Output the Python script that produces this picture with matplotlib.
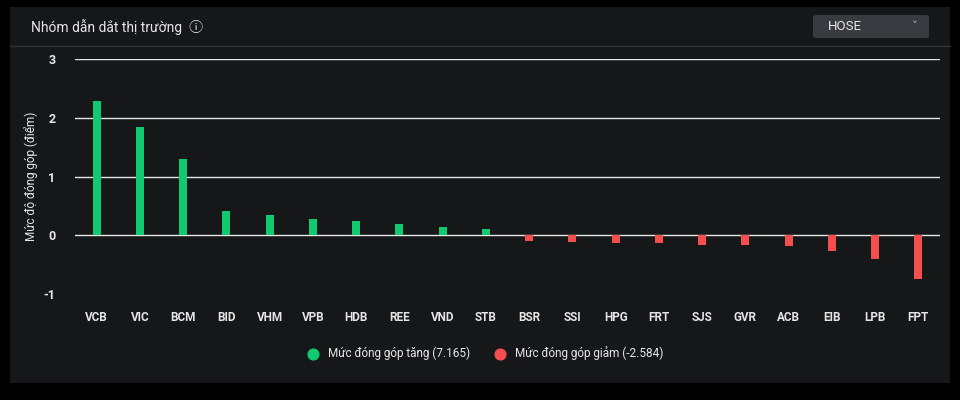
import matplotlib
matplotlib.use("Agg")
import matplotlib.pyplot as plt
from matplotlib.patches import Rectangle, FancyBboxPatch

plt.rcParams['font.family'] = ['Roboto', 'DejaVu Sans', 'Noto Sans CJK SC']

pos_labels = ["VCB", "VIC", "BCM", "BID", "VHM", "VPB", "HDB", "REE", "VND", "STB"]
pos_values = [2.29, 1.84, 1.29, 0.41, 0.34, 0.28, 0.24, 0.19, 0.14, 0.11]
neg_labels = ["BSR", "SSI", "HPG", "FRT", "SJS", "GVR", "ACB", "EIB", "LPB", "FPT"]
neg_values = [-0.09, -0.11, -0.13, -0.14, -0.16, -0.17, -0.19, -0.26, -0.41, -0.74]
yticks = [-1, 0, 1, 2, 3]
pos_total = 7.165
neg_total = -2.584

GREEN = "#10c971"
RED = "#f54e4e"
PANEL = "#161719"

fig = plt.figure(figsize=(9.6, 4.0), dpi=100)
fig.patch.set_facecolor("#000000")
fig.patches.append(Rectangle((10/960, 17/400), 940/960, 376/400, transform=fig.transFigure,
                             facecolor=PANEL, edgecolor="none", zorder=-10))
fig.add_artist(plt.Line2D([10/960, 950/960], [1-46/400, 1-46/400], color="#333333", lw=1, zorder=-5))
fig.text(31/960, 1-27/400, "Nhóm dẫn dắt thị trường  ⓘ", color="#e6e6e6", fontsize=10, va="center",
         family=['Roboto', 'DejaVu Sans', 'Noto Sans CJK SC'])
fig.patches.append(FancyBboxPatch((813/960, 1-38/400), 116/960, 23/400, transform=fig.transFigure,
                                  boxstyle="round,pad=0,rounding_size=0.004", facecolor="#3a3b40",
                                  edgecolor="none", zorder=-5))
fig.text(828/960, 1-27/400, "HOSE", color="#e6e6e6", fontsize=9.5, va="center")
fig.text(912/960, 1-26/400, "˅", color="#bbbbbb", fontsize=8, va="center")

ax = fig.add_axes([75/960, 1-294/400, 865/960, 235/400])
ax.set_facecolor(PANEL)
labels = pos_labels + neg_labels
x = list(range(len(labels)))
ax.bar(x[:10], pos_values, width=0.19, color=GREEN, zorder=3)
ax.bar(x[10:], neg_values, width=0.19, color=RED, zorder=3)
ax.set_xlim(-0.5, len(labels) - 0.5)
ax.set_ylim(-1, 3)
ax.set_yticks(yticks)
ax.set_yticklabels([str(t) for t in yticks], color="#e6e6e6", fontsize=9, fontweight="bold")
for t in [0, 1, 2, 3]:
    ax.axhline(t, color="#e6e6e6", lw=1, zorder=1)
ax.set_xticks(x)
ax.set_xticklabels(labels, color="#e6e6e6", fontsize=8.5, fontweight="bold")
ax.tick_params(length=0, pad=12)
ax.tick_params(axis="y", pad=14)
for s in ax.spines.values():
    s.set_visible(False)
ax.set_ylabel("Mức độ đóng góp (điểm)", color="#e6e6e6", fontsize=8.5, labelpad=4)

ax.scatter([], [], color=GREEN, s=60, label=f"Mức đóng góp tăng ({pos_total:.3f})")
ax.scatter([], [], color=RED, s=60, label=f"Mức đóng góp giảm ({neg_total:.3f})")
leg = fig.legend(loc="center", bbox_to_anchor=(482/960, 1-353/400), ncol=2, frameon=False,
                 fontsize=8.5, handletextpad=0.3, columnspacing=1.5, labelcolor="#e6e6e6")

fig.savefig("out.png", dpi=100, facecolor=fig.get_facecolor())
